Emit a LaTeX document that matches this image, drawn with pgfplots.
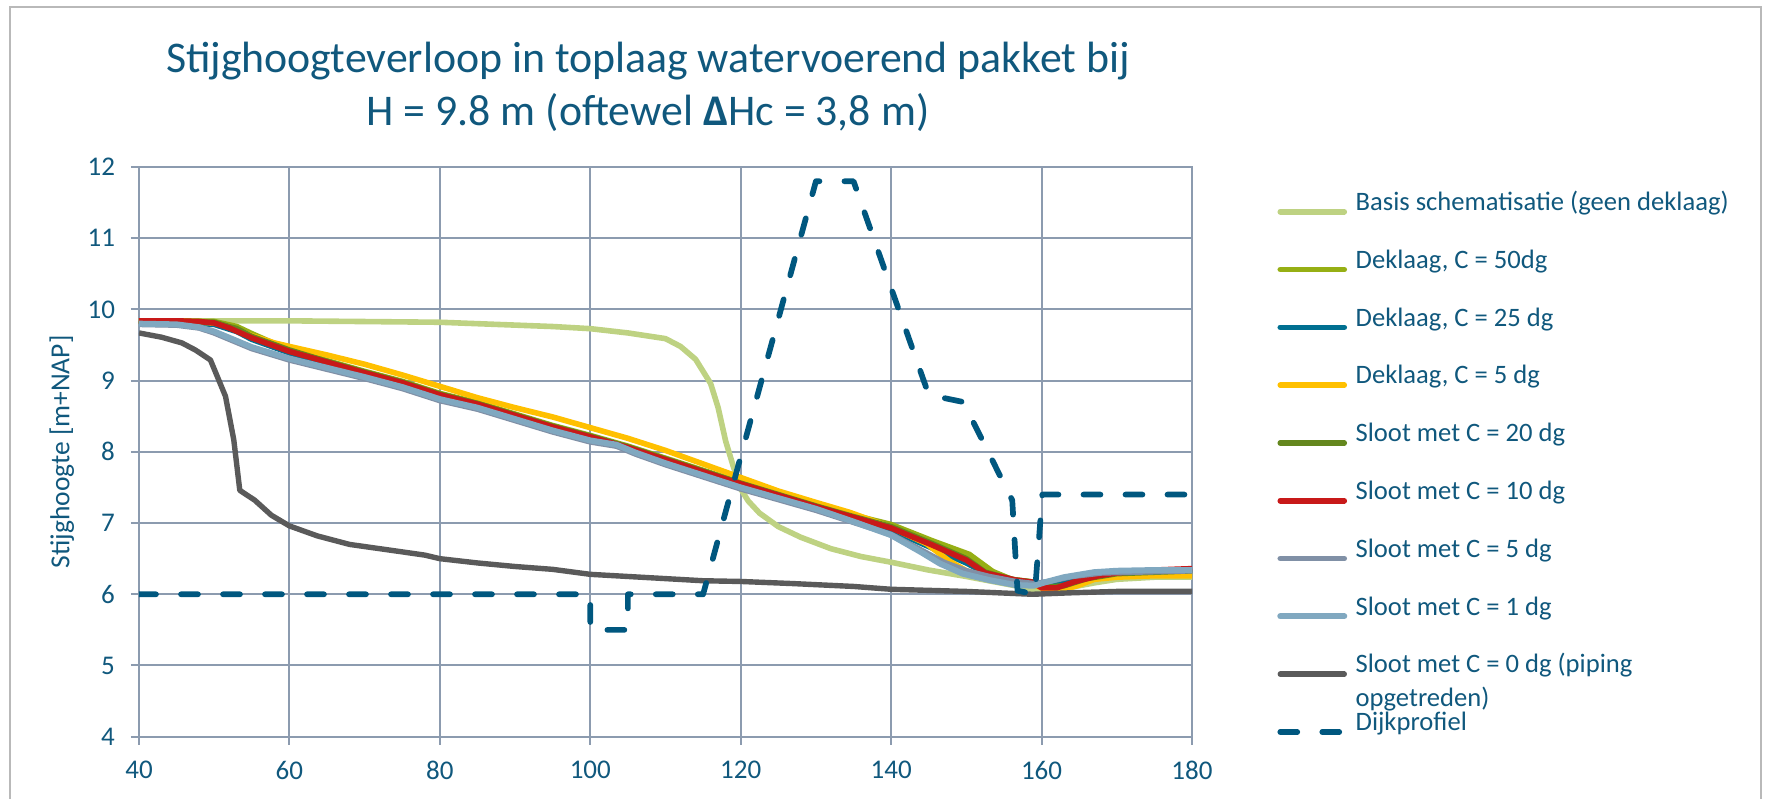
\documentclass[border=0pt]{standalone}
\usepackage{fontspec}
\setmainfont{Carlito}
\usepackage{pgfplots}
\pgfplotsset{compat=1.18}
\definecolor{txt}{RGB}{16,88,125}
\definecolor{gridc}{RGB}{140,155,175}
\definecolor{cbasis}{RGB}{190,210,130}
\definecolor{colive}{RGB}{150,175,20}
\definecolor{cteal}{RGB}{0,112,145}
\definecolor{cyellow}{RGB}{255,192,0}
\definecolor{cdolive}{RGB}{100,135,30}
\definecolor{cred}{RGB}{200,25,25}
\definecolor{cgblue}{RGB}{128,144,166}
\definecolor{clblue}{RGB}{128,168,192}
\definecolor{cdgrey}{RGB}{90,90,90}
\definecolor{cdijk}{RGB}{0,87,127}
\begin{document}
\begin{tikzpicture}
\useasboundingbox (0,0) rectangle (889pt,399pt);
\draw[gray!55, line width=1.2pt] (5pt,-5pt) -- (5pt,395.5pt) -- (880.5pt,395.5pt) -- (880.5pt,-5pt);
\node[anchor=base, text=txt, font=\fontsize{21.9}{25}\selectfont] at (324pt,362.7pt) {Stijghoogteverloop in toplaag watervoerend pakket bij};
\node[anchor=base, text=txt, font=\fontsize{21.9}{25}\selectfont] at (324pt,336pt) {H = 9.8 m (oftewel \textbf{Δ}Hc = 3,8 m)};
\begin{axis}[
  at={(69.5pt,30.65pt)}, anchor=south west, scale only axis,
  width=526.5pt, height=284.85pt,
  xmin=40, xmax=180, ymin=4, ymax=12,
  xtick={40,60,...,180}, ytick={4,5,...,12},
  grid=major,
  major grid style={draw=gridc, line width=1pt},
  axis line style={draw=gridc, line width=1pt},
  major tick style={draw=gridc, line width=1pt},
  major tick length=4pt, tick align=outside,
  xtick pos=left, ytick pos=left,
  /pgf/number format/assume math mode=true,
  ticklabel style={font=\fontsize{13.5}{15}\selectfont, text=txt},
  yticklabel style={xshift=-4.5pt},
  xticklabel style={yshift=-4.5pt},
  ylabel={Stijghoogte [m+NAP]},
  every axis y label/.style={at={(axis description cs:-0.0733,0.5)}, rotate=90, anchor=center, font=\fontsize{13.75}{15}\selectfont, text=txt},
  legend style={at={(axis description cs:1.0806,0.9596)}, anchor=north west, draw=none, fill=none, inner sep=0pt, column sep=4.2pt, row sep=0pt,
    font=\fontsize{13.3}{15.3}\selectfont, text=txt,
    nodes={inner sep=0pt, text height=10pt, text depth=18.9pt}},
  legend cell align=left,
  legend image code/.code={\draw[#1, line cap=round] (0pt,3.8pt) -- (32pt,3.8pt);},
  every axis plot/.append style={line join=round},
]
% Basis schematisatie
\addplot[cbasis, line width=2.8pt] coordinates {
(40,9.84) (50,9.84) (60,9.84) (70,9.83) (80,9.82) (90,9.78) (95,9.76) (100,9.73) (105,9.67) (110,9.59) (112,9.48) (114,9.30) (116,8.96) (117,8.62) (118,8.15) (119,7.80) (120,7.48) (121,7.31) (122.5,7.14) (125,6.95) (128,6.80) (132,6.64) (136,6.53) (140,6.45) (145,6.34) (150,6.25) (154,6.17) (157,6.11) (159,6.06) (161,6.06) (164,6.10) (167,6.16) (170,6.21) (175,6.24) (180,6.24)};
\addlegendentry{Basis schematisatie (geen deklaag)}
% Deklaag C=50
\addplot[colive, line width=2.8pt] coordinates {
(40,9.84) (45,9.84) (50,9.83) (53,9.76) (55,9.66) (58,9.52) (60,9.44) (65,9.28) (70,9.13) (75,8.99) (80,8.82) (85,8.69) (90,8.53) (95,8.37) (100,8.23) (105,8.08) (110,7.91) (115,7.74) (120,7.57) (125,7.41) (130,7.25) (135,7.11) (140,6.98) (145.5,6.75) (150.4,6.56) (153.5,6.32) (156,6.21) (159,6.17) (160.5,6.10) (162.5,6.07) (164.5,6.12) (166.7,6.22) (170,6.26) (175,6.27) (180,6.28)};
\addlegendentry{Deklaag, C = 50dg}
% Deklaag C=25
\addplot[cteal, line width=2.8pt] coordinates {
(40,9.83) (45,9.82) (50,9.79) (53,9.69) (55,9.58) (60,9.39) (65,9.24) (70,9.09) (75,8.95) (80,8.78) (85,8.65) (90,8.49) (95,8.33) (100,8.19) (105,8.04) (110,7.87) (115,7.70) (120,7.53) (125,7.37) (130,7.21) (135,7.06) (140,6.90) (145,6.67) (150,6.44) (153,6.27) (156,6.18) (159,6.15) (161,6.12) (164,6.20) (167,6.27) (170,6.31) (180,6.34)};
\addlegendentry{Deklaag, C = 25 dg}
% Deklaag C=5
\addplot[cyellow, line width=2.8pt] coordinates {
(40,9.84) (45,9.84) (50,9.81) (52,9.76) (55,9.63) (58,9.53) (60,9.48) (65,9.36) (70,9.23) (75,9.08) (80,8.92) (85,8.76) (90,8.62) (95,8.49) (100,8.34) (105,8.19) (110,8.02) (115,7.83) (120,7.64) (125,7.45) (130,7.29) (134.5,7.15) (140,6.94) (144.7,6.71) (147.7,6.47) (150,6.33) (153,6.24) (156.6,6.19) (158.8,6.14) (160.5,6.07) (162.5,6.05) (165,6.13) (167,6.21) (170,6.24) (175,6.26) (180,6.26)};
\addlegendentry{Deklaag, C = 5 dg}
% Sloot C=20
\addplot[cdolive, line width=2.8pt] coordinates {
(40,9.84) (50,9.82) (53,9.73) (55,9.62) (60,9.43) (65,9.27) (70,9.12) (75,8.98) (80,8.81) (85,8.68) (90,8.52) (95,8.36) (100,8.22) (105,8.07) (110,7.90) (115,7.73) (120,7.56) (125,7.40) (130,7.24) (135,7.09) (140,6.95) (145.5,6.71) (150,6.50) (152.5,6.31) (156.5,6.20) (159,6.17) (160.5,6.10) (163,6.12) (166,6.22) (170,6.29) (180,6.33)};
\addlegendentry{Sloot met C = 20 dg}
% Sloot C=10
\addplot[cred, line width=2.8pt] coordinates {
(40,9.84) (45,9.84) (48,9.83) (50,9.81) (52,9.74) (55,9.60) (60,9.41) (65,9.26) (70,9.11) (75,8.97) (80,8.80) (85,8.67) (90,8.51) (95,8.35) (100,8.21) (105,8.06) (110,7.89) (115,7.72) (120,7.55) (125,7.39) (130,7.23) (135,7.08) (140,6.93) (145.5,6.69) (150,6.48) (152.5,6.30) (156.5,6.20) (158.8,6.17) (160,6.09) (162,6.09) (164.5,6.18) (167.6,6.26) (170,6.30) (175,6.34) (180,6.36)};
\addlegendentry{Sloot met C = 10 dg}
% Sloot C=5
\addplot[cgblue, line width=2.8pt] coordinates {
(40,9.79) (45,9.78) (48,9.74) (50,9.67) (55,9.45) (60,9.29) (65,9.16) (70,9.03) (75,8.89) (80,8.72) (85,8.60) (90,8.44) (95,8.28) (100,8.14) (103.5,8.08) (106,7.97) (110,7.82) (115,7.65) (120,7.48) (125,7.33) (130,7.18) (135,7.01) (140,6.84) (144,6.62) (147,6.45) (150,6.33) (153,6.25) (156.5,6.18) (159,6.15) (161,6.18) (164,6.25) (168,6.30) (180,6.33)};
\addlegendentry{Sloot met C = 5 dg}
% Sloot C=1
\addplot[clblue, line width=3pt] coordinates {
(40,9.80) (45,9.79) (48,9.75) (50,9.69) (55,9.47) (60,9.31) (65,9.18) (70,9.05) (75,8.91) (80,8.74) (85,8.62) (90,8.46) (95,8.30) (100,8.16) (103.5,8.10) (106,7.99) (110,7.84) (115,7.67) (120,7.50) (125,7.35) (130,7.20) (135,7.02) (140,6.83) (144,6.59) (146.5,6.43) (149.5,6.29) (153,6.20) (156.5,6.13) (159,6.12) (160.5,6.17) (163,6.24) (167,6.31) (170,6.33) (175,6.34) (180,6.34)};
\addlegendentry{Sloot met C = 1 dg}
% Sloot C=0
\addplot[cdgrey, line width=2.7pt] coordinates {
(40,9.67) (43,9.61) (45.7,9.53) (47.5,9.43) (49.5,9.29) (51.5,8.78) (52.6,8.17) (53.4,7.46) (55.4,7.32) (57.6,7.11) (60,6.96) (63.7,6.82) (68,6.70) (74.7,6.60) (78,6.55) (80,6.50) (85,6.44) (90,6.39) (95,6.35) (100,6.28) (105,6.25) (110,6.22) (115,6.19) (120,6.18) (127,6.15) (135,6.11) (140,6.07) (150,6.04) (158.8,6.00) (163.7,6.02) (170,6.04) (180,6.04)};
\addlegendentry{\begin{tabular}[t]{@{}l@{}}Sloot met C = 0 dg (piping\\[1.5pt]opgetreden)\end{tabular}}
% Dijkprofiel
\addplot[cdijk, line width=2.85pt, line cap=round, dash pattern=on 8.5pt off 12.5pt] coordinates {
(40,6) (100,6) (100,5.5) (105,5.5) (105,6) (115,6) (130,11.8) (135,11.8) (145,8.8) (149.6,8.7) (156.1,7.32) (156.8,6.05) (159.1,6.0) (160.1,7.4) (180,7.4)};
\addlegendentry{Dijkprofiel}
\end{axis}
\end{tikzpicture}
\end{document}
